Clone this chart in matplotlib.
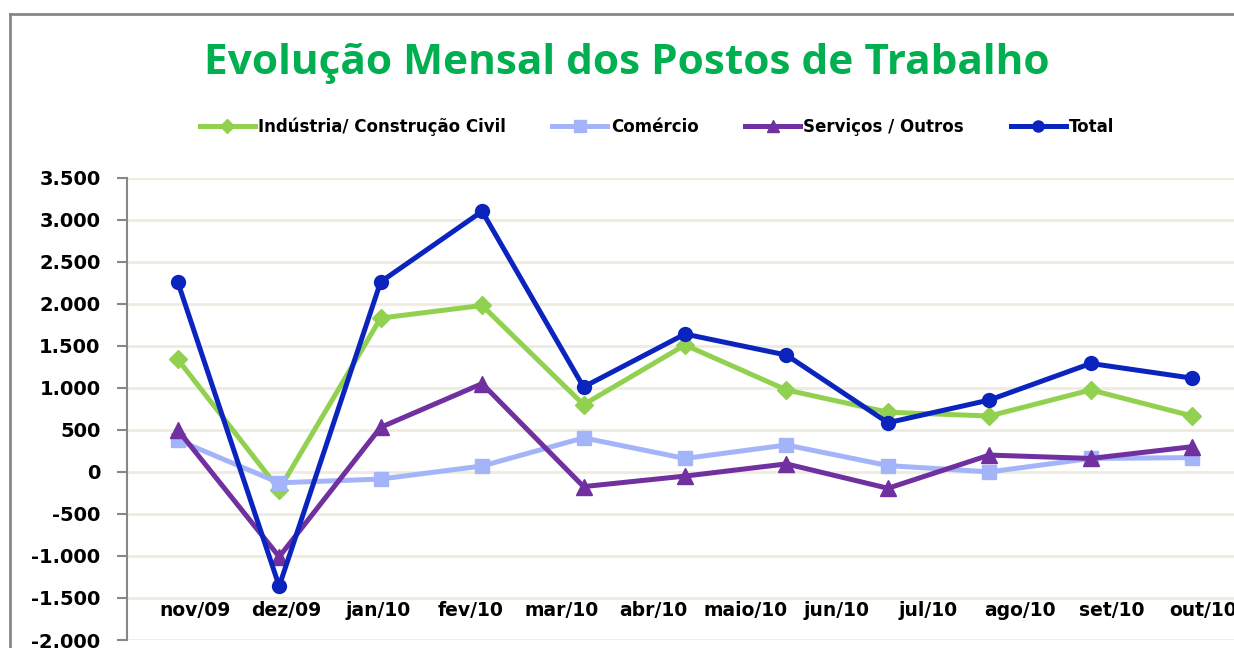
import matplotlib.pyplot as plt
from matplotlib.lines import Line2D
from matplotlib.ticker import FuncFormatter, MultipleLocator
import numpy as np

# meses (rótulos do eixo) e valores
meses = ['nov/09', 'dez/09', 'jan/10', 'fev/10', 'mar/10', 'abr/10',
         'maio/10', 'jun/10', 'jul/10', 'ago/10', 'set/10', 'out/10']
industria = [1340, -210, 1830, 1980, 800, 1510, 975, 710, 665, 975, 665]
comercio = [380, -130, -85, 70, 405, 160, 320, 75, 0, 160, 170]
servicos = [500, -1010, 530, 1050, -175, -50, 95, -195, 200, 160, 300]
total = [2260, -1360, 2260, 3100, 1010, 1640, 1390, 585, 855, 1290, 1115]

series = [
    ('Indústria/ Construção Civil', industria, '#92D050', 'D', 9),
    ('Comércio', comercio, '#A4B4F8', 's', 10),
    ('Serviços / Outros', servicos, '#7030A0', '^', 11),
    ('Total', total, '#0B24BE', 'o', 10),
]

W, H = 1234, 648
fig = plt.figure(figsize=(W / 100, H / 100), dpi=100)

# moldura externa do gráfico (cortada à direita e em baixo)
fig.add_artist(Line2D([10 / W, 10 / W], [0, 1 - 14 / H], transform=fig.transFigure,
                      color='#878787', lw=2))
fig.add_artist(Line2D([10 / W, 1], [1 - 14 / H, 1 - 14 / H], transform=fig.transFigure,
                      color='#878787', lw=2))

ax = fig.add_axes([127 / W, 8 / H, (1243 - 127) / W, (640 - 177.7) / H])
x = np.arange(len(total))
for name, vals, col, mk, ms in series:
    ax.plot(x, vals, color=col, lw=3.6, marker=mk, markersize=ms,
            markeredgecolor=col, label=name)

ax.set_xlim(-0.5, 10.5)
ax.set_ylim(-2000, 3500)
ax.yaxis.set_major_locator(MultipleLocator(500))
ax.yaxis.set_major_formatter(FuncFormatter(lambda v, p: f'{v:,.0f}'.replace(',', '.')))
ax.grid(axis='y', color='#EEEBE0', lw=2)
ax.set_axisbelow(True)
for s in ['top', 'right', 'bottom']:
    ax.spines[s].set_visible(False)
ax.spines['left'].set_color('#878787')
ax.spines['left'].set_linewidth(1.5)
ax.tick_params(axis='y', length=7, width=1.5, color='#878787', pad=12,
               labelsize=14)
for t in ax.get_yticklabels():
    t.set_fontweight('bold')
ax.set_xticks([])

# rótulos das categorias (espaçamento próprio, como no original)
ax2 = ax.twiny()
ax2.set_xlim(-0.742, 11.43)
ax2.xaxis.set_ticks_position('bottom')
ax2.spines['bottom'].set_position(('data', -1500))
for s in ax2.spines.values():
    s.set_visible(False)
ax2.set_xticks(range(len(meses)))
ax2.set_xticklabels(meses)
ax2.tick_params(axis='x', length=0, pad=2.5, labelsize=13.5,
                labelbottom=True, labeltop=False)
for t in ax2.get_xticklabels():
    t.set_fontweight('bold')

fig.text(627 / W, 1 - 63 / H, 'Evolução Mensal dos Postos de Trabalho',
         ha='center', va='center', color='#00B050', fontsize=30.5,
         fontweight='bold', family='Open Sans')

handles = [Line2D([], [], color=c, lw=3.6, marker=m, markersize=ms * 0.8,
                  markeredgecolor=c) for _, _, c, m, ms in series]
fig.legend(handles, [s[0] for s in series], loc='center',
           bbox_to_anchor=(657 / W, 1 - 127 / H), ncol=4, frameon=False,
           handlelength=3.3, handletextpad=0.2, columnspacing=2.8,
           prop={'family': 'DejaVu Sans', 'weight': 'bold', 'size': 12})

fig.savefig('out.png', dpi=100)
